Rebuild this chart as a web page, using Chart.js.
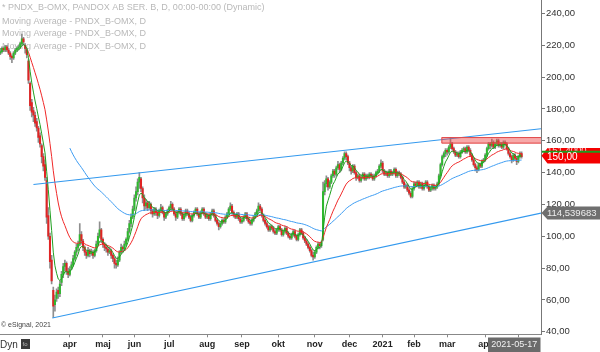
<!DOCTYPE html>
<html><head><meta charset="utf-8">
<script src="https://cdn.jsdelivr.net/npm/chart.js@4.4.1/dist/chart.umd.min.js"></script>
<style>html,body{margin:0;padding:0;background:#fff}#wrap{width:600px;height:352px}</style>
</head><body><div id="wrap"><canvas id="c" width="600" height="352"></canvas></div>
<script>
// ---- DATA (daily bars, Feb 2020 .. May 2021) ----
const open = [215,216,218,217,219,217,215,213,212,215,217,218,219,221,224,220,217,
210,196,184,179,176,172,168,163,157,150,145,135,113,100,85,66,
57,61,66,64,71,76,81,83,78,76,
80,82,86,90,93,95,101,97,93,90,
88,91,89,90,88,91,95,100,104,98,
95,93,92,90,91,88,86,83,82,85,
90,93,92,95,98,103,108,112,117,124,
128,134,136,130,124,119,121,118,120,116,
114,117,115,113,116,118,115,112,114,116,
118,120,117,114,112,115,117,114,111,113,
116,114,112,110,113,115,117,114,112,115,
117,114,112,113,111,114,116,113,110,108,
106,108,110,109,112,114,117,119,115,113,
112,114,111,109,110,112,114,111,109,108,
110,112,114,116,119,117,113,110,108,106,
104,106,105,103,102,104,106,104,101,103,
105,102,100,99,101,103,100,98,101,104,
102,99,97,95,93,91,88,87,90,93,
95,94,98,128,133,136,131,134,138,141,
139,143,145,142,146,149,152,150,146,143,
141,144,140,137,138,135,137,139,136,138,
137,139,138,136,138,140,141,144,146,141,
139,140,138,141,139,140,142,138,140,139,
137,134,131,132,129,127,125,130,133,132,
134,131,133,130,132,134,131,129,130,132,
130,131,133,138,145,150,152,154,153,156,
158,155,153,151,152,150,153,154,155,153,
156,154,151,148,145,143,142,145,144,147,
148,151,155,158,157,159,156,158,160,157,
158,156,159,158,155,152,150,148,151,149,
147,150,152];
const high = [218,219,219,220,220,218,216,214,216,218,219,220,222,227,225,221,218,
211,197,186,181,178,174,169,165,158,152,148,137,118,102,88,68,
63,67,68,72,78,83,85,84,80,81,
84,88,91,95,97,108,103,98,94,91,
93,92,92,91,92,97,102,109,105,99,
96,95,93,93,92,89,87,85,87,91,
95,94,97,99,105,110,114,119,126,131,
136,140,137,131,126,123,122,122,121,117,
118,118,116,117,120,119,116,115,117,119,
122,121,118,115,116,118,118,115,114,117,
117,115,113,114,116,118,118,115,116,118,
118,115,114,114,115,117,117,114,111,109,
109,111,111,113,115,118,121,120,116,114,
115,115,112,111,113,115,115,112,110,111,
113,115,117,121,120,118,114,111,109,107,
107,107,106,104,105,107,107,105,104,106,
106,103,101,102,104,104,101,102,105,105,
103,100,98,96,94,92,90,91,94,96,
96,97,134,135,138,137,135,139,142,142,
144,147,146,147,150,153,153,151,147,144,
145,145,141,139,139,138,140,140,139,139,
140,140,139,139,141,142,145,148,147,142,
141,141,142,142,141,143,143,141,141,140,
138,135,133,133,130,128,131,134,134,135,
135,134,134,133,135,135,132,131,133,133,
132,134,139,146,151,153,155,155,157,162,
159,156,154,153,153,154,155,156,156,157,
157,155,152,149,146,144,146,146,148,149,
152,156,159,159,161,160,159,161,161,159,
159,160,160,159,156,153,151,152,152,150,
151,153,153];
const low = [214,215,216,216,216,214,211,209,211,214,216,217,218,220,220,215,212,
196,179,175,172,169,166,159,156,146,141,135,108,98,80,70,49,
53,59,61,62,69,74,78,76,74,75,
79,81,85,88,91,94,95,91,88,86,
87,87,88,86,87,90,94,99,96,93,
91,90,88,89,86,84,80,80,81,84,
89,90,91,94,97,102,106,111,116,122,
126,130,128,121,116,117,116,117,114,112,
113,113,111,112,115,114,110,111,113,115,
117,116,113,110,111,114,113,110,110,112,
113,111,109,109,112,114,113,111,111,114,
113,111,111,110,110,113,112,109,107,104,
105,107,108,108,111,113,116,114,112,111,
111,110,108,108,109,111,110,108,107,107,
109,111,113,115,116,112,109,107,105,103,
103,104,102,101,101,103,103,100,100,102,
101,99,98,98,100,99,97,97,100,101,
98,96,94,92,90,87,85,86,89,92,
92,93,97,126,131,129,130,133,137,137,
138,142,140,141,145,148,148,145,141,139,
140,139,135,136,134,134,136,135,135,136,
136,137,135,135,137,139,140,143,140,138,
138,137,137,138,138,139,137,137,138,136,
133,130,130,128,126,124,124,129,131,131,
130,130,129,129,131,130,128,128,129,129,
129,130,132,137,144,149,150,151,152,155,
154,152,150,150,149,149,152,153,152,152,
153,150,147,144,141,140,141,143,143,146,
147,150,154,155,156,155,155,157,156,156,
155,155,157,154,151,149,146,147,148,145,
146,149,149];
const close = [216,218,217,219,217,215,213,212,215,217,218,219,221,224,222,218,214,
198,182,178,176,171,168,162,158,150,144,137,112,100,84,72,56,
60,65,64,70,76,81,83,78,76,79,
82,86,90,93,95,101,97,93,90,88,
91,89,90,88,91,95,100,104,98,95,
93,92,90,91,88,86,83,82,85,90,
93,92,95,98,103,108,112,117,124,128,
134,137,130,124,119,121,118,120,116,114,
117,115,113,116,118,115,112,114,116,118,
120,117,114,112,115,117,114,111,113,116,
114,112,110,113,115,117,114,112,115,117,
114,112,113,111,114,116,113,110,108,106,
108,110,109,112,114,117,119,115,113,112,
114,111,109,110,112,114,111,109,108,110,
112,114,116,119,117,113,110,108,106,104,
106,105,103,102,104,106,104,101,103,105,
102,100,99,101,103,100,98,101,104,102,
99,97,95,93,91,88,87,90,93,95,
94,96,128,133,136,131,134,138,141,139,
143,145,142,146,149,152,150,146,143,141,
144,140,137,138,135,137,139,136,138,137,
139,138,136,138,140,141,144,146,141,139,
140,138,141,139,140,142,138,140,139,137,
134,131,132,129,127,125,130,133,132,134,
131,133,130,132,134,131,129,130,132,130,
131,133,138,145,150,152,154,153,156,158,
155,153,151,152,150,153,154,155,153,156,
154,151,148,145,143,142,145,144,147,148,
151,155,158,157,159,156,158,160,157,158,
156,159,158,155,152,150,148,151,149,147,
150,152,150];

// month ticks (bar index of first trading day) and their labels
const monthTickIdx = [42,62,81,102,125,146,168,190,211,231,250,270,293,313];
const monthTickLabels = ['apr','maj','jun','jul','aug','sep','okt','nov','dec','2021','feb','mar','apr','maj'];
const yTickValues = [40,60,80,100,120,140,160,180,200,220,240];

// moving averages (exponential): periods and first displayed bar
const maPeriods = [6, 20, 65];
const maStart = [10, 15, 42];

// hand-drawn trend lines (bar index, price)
const upperTrendX = [20, 326.7];
const upperTrendY = [132.5, 167.5];
const lowerTrendX = [31.4, 326.7];
const lowerTrendY = [48.6, 114.539683];
// resistance zone
const bandStartIdx = 266.5;
const bandLow = 158.2;
const bandHigh = 162.3;

const legendLines = ['* PNDX_B-OMX, PANDOX AB SER. B, D, 00:00-00:00 (Dynamic)',
 'Moving Average - PNDX_B-OMX, D','Moving Average - PNDX_B-OMX, D','Moving Average - PNDX_B-OMX, D'];
const lastDateLabel = '2021-05-17';
const hiddenTagText = '151,4000';

// ---- build ----
const FONT = '"Liberation Sans", Arial, sans-serif';
Chart.defaults.font.family = FONT;
function ema(src, period, start){
  const k = 2/(period+1); let e = src[0];
  return src.map((v,i)=>{ if(i>0) e = e + k*(v-e); return {x:i, y: i<start ? null : e}; });
}
const idx = close.map((_,i)=>i);
const wickData = idx.map(i=>({x:i, y:[low[i], high[i]]}));
const bodyData = idx.map(i=>({x:i, y:[open[i], close[i]]}));
const bodyColors = idx.map(i=> close[i] >= open[i] ? '#2eb82e' : '#e02424');
const fmt = (v,d)=> v.toFixed(d).replace('.',',');

function tag(ctx, ax, yc, h, color){
  ctx.beginPath(); ctx.moveTo(ax+0.5, yc); ctx.lineTo(ax+6.5, yc-h/2); ctx.lineTo(600, yc-h/2);
  ctx.lineTo(600, yc+h/2); ctx.lineTo(ax+6.5, yc+h/2); ctx.closePath(); ctx.fillStyle=color; ctx.fill();
}

const deco = {
  id:'deco',
  beforeDatasetsDraw(chart){
    const ctx = chart.ctx; ctx.save();
    ctx.font = '9px '+FONT; ctx.fillStyle = '#b9b9b9'; ctx.textBaseline='middle'; ctx.textAlign='left';
    const ly = [7.5, 21.5, 34, 46.5];
    legendLines.forEach((t,i)=>ctx.fillText(t, 2, ly[i]));
    ctx.restore();
  },
  afterDatasetsDraw(chart){
    const ctx = chart.ctx, xs = chart.scales.x, ys = chart.scales.y, ca = chart.chartArea;
    ctx.save();
    const x0 = xs.getPixelForValue(bandStartIdx), x1 = ca.right;
    const yT = ys.getPixelForValue(bandHigh), yB = ys.getPixelForValue(bandLow);
    ctx.fillStyle = 'rgba(238,64,64,0.45)'; ctx.fillRect(x0, yT, x1-x0, yB-yT);
    ctx.strokeStyle = '#e24a4a'; ctx.lineWidth = 1;
    ctx.beginPath(); ctx.moveTo(x1, yT+0.5); ctx.lineTo(x0+0.5, yT+0.5); ctx.lineTo(x0+0.5, yB-0.5); ctx.lineTo(x1, yB-0.5); ctx.stroke();
    ctx.restore();
  },
  afterDraw(chart){
    const ctx = chart.ctx, ys = chart.scales.y, ca = chart.chartArea, ax = ca.right;
    ctx.save();
    // mask below plot on axis side
    ctx.fillStyle = '#fff'; ctx.fillRect(ax+1, ca.bottom+0.6, 600-ax, 352-ca.bottom);
    ctx.textBaseline = 'middle'; ctx.textAlign = 'left';
    // trend line value tag
    const yTr = ys.getPixelForValue(lowerTrendY[1]);
    tag(ctx, ax, yTr, 13, '#6f6f6f');
    ctx.fillStyle = '#ededed'; ctx.font = '9.5px '+FONT;
    ctx.fillText(fmt(lowerTrendY[1],6), ax+6, yTr+0.5);
    // last price tag
    const last = close[close.length-1];
    const yL = ys.getPixelForValue(last);
    const yc = yL - 0.8, h = 15.5;
    tag(ctx, ax, yc, h, '#f40000');
    ctx.save(); ctx.beginPath(); ctx.rect(ax+6, yc-h/2, 60, 3.5); ctx.clip();
    ctx.fillStyle = '#f4d0d0'; ctx.font='9.5px '+FONT; ctx.fillText(hiddenTagText, ax+6, yc-h/2+2.5);
    ctx.restore();
    ctx.strokeStyle = '#1e9a1e'; ctx.lineWidth = 2;
    ctx.beginPath(); ctx.moveTo(ax+1, yc-4); ctx.lineTo(600, yc-4); ctx.stroke();
    ctx.fillStyle = '#ffffff'; ctx.font = '10px '+FONT;
    ctx.fillText(fmt(last,2), ax+6, yL+1);
    // date box
    ctx.fillStyle = '#6b6b6b'; ctx.fillRect(488, 337.5, 52.5, 14.5);
    ctx.fillStyle = '#f2f2f2'; ctx.font = '9px '+FONT; ctx.textAlign='center';
    ctx.fillText(lastDateLabel, 514.3, 345);
    // Dyn + icon
    ctx.textAlign='left'; ctx.fillStyle='#333'; ctx.font='10px '+FONT;
    ctx.fillText('Dyn', 0, 345);
    ctx.fillStyle='#3a3a3a'; ctx.fillRect(21, 339, 9, 10);
    ctx.fillStyle='#bbb'; ctx.font='6px '+FONT; ctx.fillText('fo', 22.5, 344.5);
    // copyright
    ctx.fillStyle='#444'; ctx.font='7px '+FONT; ctx.fillText('\u00a9 eSignal, 2021', 1, 325.5);
    ctx.restore();
  }
};

new Chart(document.getElementById('c'), {
  type:'bar',
  data:{ datasets:[
    {type:'bar', data:wickData, backgroundColor:'#8e8e8e', barThickness:1, grouped:false, order:10},
    {type:'bar', data:bodyData, backgroundColor:bodyColors, barThickness:1.4, grouped:false, order:9},
    {type:'line', data:ema(close, maPeriods[2], maStart[2]), borderColor:'#3d9cf2', borderWidth:1, pointRadius:0, order:5},
    {type:'line', data:ema(close, maPeriods[1], maStart[1]), borderColor:'#f02828', borderWidth:1, pointRadius:0, order:4},
    {type:'line', data:ema(close, maPeriods[0], maStart[0]), borderColor:'#1f9f1f', borderWidth:1, pointRadius:0, order:3},
    {type:'line', data:upperTrendX.map((x,i)=>({x, y:upperTrendY[i]})), borderColor:'#3399ee', borderWidth:1.1, pointRadius:0, order:1},
    {type:'line', data:lowerTrendX.map((x,i)=>({x, y:lowerTrendY[i]})), borderColor:'#3399ee', borderWidth:1.1, pointRadius:0, order:1}
  ]},
  options:{
    responsive:false, animation:false, devicePixelRatio:1, events:[],
    layout:{padding:0},
    plugins:{legend:{display:false}, tooltip:{enabled:false}},
    scales:{
      x:{ type:'linear', min:-0.2, max:326.7, offset:false,
        afterBuildTicks: s => { s.ticks = monthTickIdx.map(v=>({value:v})); },
        ticks:{ autoSkip:false, maxRotation:0, padding:1.5, color:'#222', font:{size:9, weight:'bold'},
          callback:(v,i)=> monthTickLabels[i] },
        grid:{ drawOnChartArea:false, drawTicks:true, tickLength:3, color:'#888', offset:false },
        border:{ color:'#888' },
        afterFit: s => { s.height = 17.7; s.paddingLeft = 0; s.paddingRight = 0; }
      },
      y:{ type:'linear', position:'right', min:38.4, max:248.4,
        afterBuildTicks: s => { s.ticks = yTickValues.map(v=>({value:v})); },
        ticks:{ padding:1, color:'#333', font:{size:9.5}, callback:v=> fmt(v,2) },
        grid:{ drawOnChartArea:false, drawTicks:true, tickLength:4, color:'#777' },
        border:{ color:'#777' },
        afterFit: s => { s.width = 59; s.paddingTop = 0; s.paddingBottom = 0; }
      }
    }
  },
  plugins:[deco]
});
</script></body></html>
